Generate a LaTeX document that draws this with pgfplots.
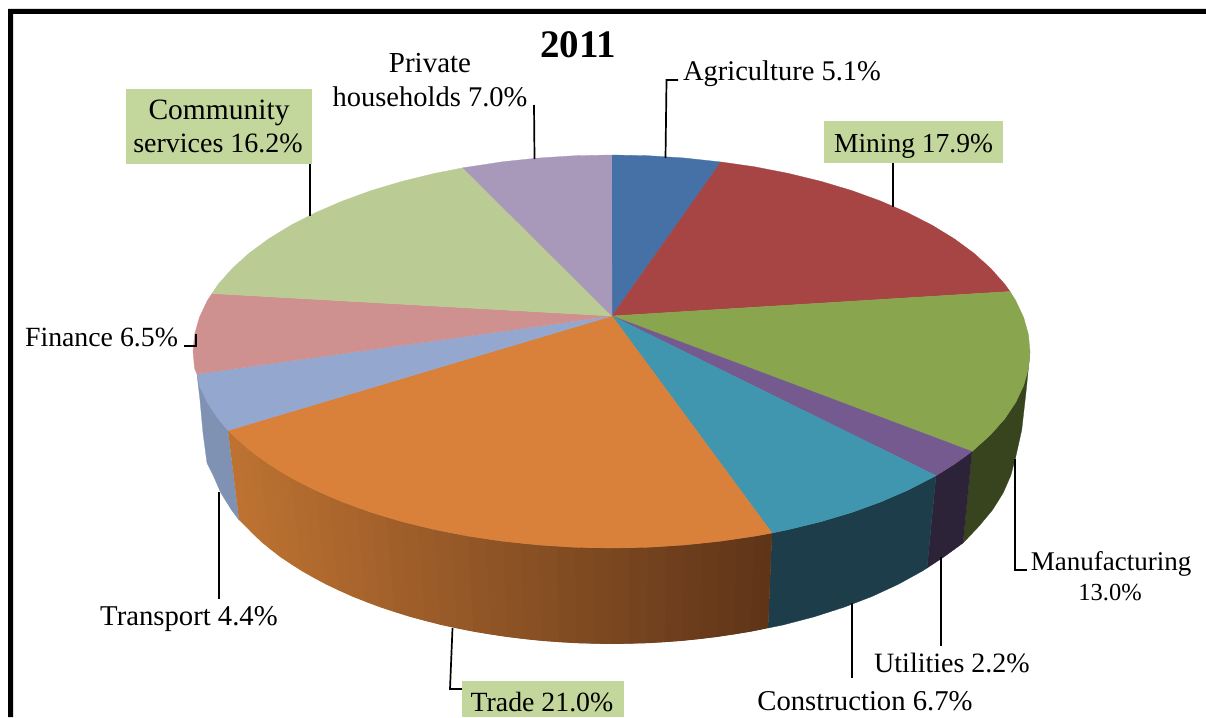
\documentclass[border=0pt]{standalone}
\usepackage{fontspec}
\setmainfont{Liberation Serif}
\usepackage{pgfplots}
\pgfplotsset{compat=1.18}
% slice tops
\definecolor{agri}{RGB}{70,113,166}
\definecolor{mining}{RGB}{167,68,68}
\definecolor{manuf}{RGB}{137,165,78}
\definecolor{util}{RGB}{116,90,143}
\definecolor{constr}{RGB}{65,150,175}
\definecolor{trade}{RGB}{217,128,59}
\definecolor{transp}{RGB}{147,167,207}
\definecolor{fin}{RGB}{207,145,143}
\definecolor{comm}{RGB}{186,203,147}
\definecolor{priv}{RGB}{168,153,187}
% slice walls
\definecolor{manufw}{RGB}{55,68,29}
\definecolor{utilw}{RGB}{45,35,56}
\definecolor{constrw}{RGB}{28,61,73}
\definecolor{transpw}{RGB}{128,146,180}
\definecolor{tradeL}{RGB}{190,115,50}
\definecolor{tradeR}{RGB}{94,52,24}
\definecolor{hilite}{RGB}{195,214,155}
\pgfplotsset{
  slice/.style={fill=#1,draw=#1,line width=0.3pt},
  leader/.style={black,line width=1.7pt,line join=miter},
}
\newcommand{\lab}[4][28.5]{\node[anchor=base,inner sep=0pt,font=\fontsize{#1}{30}\selectfont] at (axis cs:#2,#3) {#4};}
% strips overlap the next one so that no seams show
\newcommand{\strip}[2]{\addplot[fill=tradeR!#1!tradeL,draw=none] coordinates {#2};}
\begin{document}
\begin{tikzpicture}
\begin{axis}[
    scale only axis,
    width=1206pt,
    height=717pt,
    xmin=0, xmax=1206,
    ymin=0, ymax=717,
    y dir=reverse,
    hide axis,
    clip=false,
]
% keeps the page at full size
\addplot[draw=none] coordinates {(0,0) (1206,717)};
% frame
\addplot[fill=black,draw=none] coordinates {(8,717) (8,9) (1206,9) (1206,14) (13,14) (13,717)};

% walls
\addplot[slice=manufw] coordinates {(1030,351.5) (1028.4,368.6) (1023.6,385.6) (1015.7,402.4) (1004.8,418.7) (990.8,434.5) (972,451.5) (963,543) (979,526.2) (992.6,509.8) (1003.2,492.8) (1010.8,475.4) (1015.5,457.8) (1021.7,430) (1026,392) (1030,351.5)};
\addplot[slice=utilw] coordinates {(972,451.5) (954.3,464.2) (936,475.7) (927,568) (943.8,557) (963,543) (972,451.5)};
\addplot[slice=constrw] coordinates {(936,475.7) (907.4,490.4) (880.5,502) (851.6,512.5) (820.8,521.7) (788.4,529.6) (772,533) (768,628) (783.2,624.9) (814.5,616.7) (844.3,607.1) (872.3,596.3) (898.4,584.2) (922.2,571.1) (927,568) (936,475.7)};
\addplot[slice=transpw] coordinates {(197,374) (199.4,385.6) (207.3,402.4) (218.2,418.7) (228,430.5) (239,520) (231.4,509.8) (220.8,492.8) (213.2,475.4) (207,463) (203,433) (200,400) (197,374)};
% trade wall, shaded left to right
\strip{1}{(228,430.5) (249.1,449.8) (261.3,542) (239,520)}
\strip{3}{(238.5,440.2) (258.9,457) (270.8,549.5) (250.2,531)}
\strip{5}{(249.1,449.8) (268.7,464.2) (280.2,557) (261.3,542)}
\strip{7}{(258.9,457) (279.8,471) (291,564) (270.8,549.5)}
\strip{8}{(268.7,464.2) (290.9,477.8) (301.8,571.1) (280.2,557)}
\strip{10}{(279.8,471) (303.3,484.1) (313.7,577.7) (291,564)}
\strip{13}{(290.9,477.8) (315.6,490.4) (325.6,584.2) (301.8,571.1)}
\strip{15}{(303.3,484.1) (329,496.2) (338.7,590.3) (313.7,577.7)}
\strip{17}{(315.6,490.4) (342.5,502) (351.7,596.3) (325.6,584.2)}
\strip{20}{(329,496.2) (357,507.3) (365.7,601.7) (338.7,590.3)}
\strip{22}{(342.5,502) (371.4,512.5) (379.7,607.1) (351.7,596.3)}
\strip{25}{(357,507.3) (386.8,517.1) (394.6,611.9) (365.7,601.7)}
\strip{28}{(371.4,512.5) (402.2,521.7) (409.5,616.7) (379.7,607.1)}
\strip{31}{(386.8,517.1) (418.4,525.7) (425.2,620.8) (394.6,611.9)}
\strip{33}{(402.2,521.7) (434.6,529.6) (440.8,624.9) (409.5,616.7)}
\strip{36}{(418.4,525.7) (451.5,532.9) (457.2,628.3) (425.2,620.8)}
\strip{40}{(434.6,529.6) (468.4,536.2) (473.5,631.7) (440.8,624.9)}
\strip{43}{(451.5,532.9) (485.8,538.8) (490.4,634.4) (457.2,628.3)}
\strip{46}{(468.4,536.2) (503.2,541.3) (507.2,637) (473.5,631.7)}
\strip{49}{(485.8,538.8) (521,543.2) (524.5,639) (490.4,634.4)}
\strip{52}{(503.2,541.3) (538.8,545) (541.7,640.9) (507.2,637)}
\strip{56}{(521,543.2) (556.9,546.2) (559.2,642.1) (524.5,639)}
\strip{59}{(538.8,545) (575,547.3) (576.7,643.2) (541.7,640.9)}
\strip{62}{(556.9,546.2) (593.3,547.7) (594.4,643.6) (559.2,642.1)}
\strip{65}{(575,547.3) (611.5,548) (612,644) (576.7,643.2)}
\strip{69}{(593.3,547.7) (629.8,547.7) (629.7,643.6) (594.4,643.6)}
\strip{72}{(611.5,548) (648,547.3) (647.3,643.2) (612,644)}
\strip{76}{(629.8,547.7) (666.1,546.2) (664.8,642.1) (629.7,643.6)}
\strip{79}{(648,547.3) (684.2,545) (682.3,640.9) (647.3,643.2)}
\strip{82}{(666.1,546.2) (702,543.2) (699.6,639) (664.8,642.1)}
\strip{85}{(684.2,545) (719.8,541.3) (716.8,637) (682.3,640.9)}
\strip{89}{(702,543.2) (737.2,538.8) (733.7,634.4) (699.6,639)}
\strip{92}{(719.8,541.3) (754.6,536.2) (750.5,631.7) (716.8,637)}
\strip{95}{(737.2,538.8) (763.3,534.6) (759.3,629.9) (733.7,634.4)}
\strip{98}{(754.6,536.2) (772,533) (768,628) (750.5,631.7)}
\strip{99}{(763.3,534.6) (772,533) (768,628) (759.3,629.9)}

% top face
\addplot[slice=agri] coordinates {(612,316) (611.5,155) (648,155.7) (684.2,158) (721,162) (612,316)};
\addplot[slice=mining] coordinates {(612,316) (721,162) (754.6,166.8) (788.4,173.4) (820.8,181.3) (851.6,190.5) (880.5,201) (907.4,212.6) (932.1,225.2) (954.3,238.8) (973.9,253.2) (990.8,268.5) (1004.8,284.3) (1010,291.5) (612,316)};
\addplot[slice=manuf] coordinates {(612,316) (1010,291.5) (1015.7,300.6) (1023.6,317.4) (1028.4,334.4) (1030,351.5) (1028.4,368.6) (1023.6,385.6) (1015.7,402.4) (1004.8,418.7) (990.8,434.5) (972,451.5) (612,316)};
\addplot[slice=util] coordinates {(612,316) (972,451.5) (954.3,464.2) (936,475.7) (612,316)};
\addplot[slice=constr] coordinates {(612,316) (936,475.7) (907.4,490.4) (880.5,502) (851.6,512.5) (820.8,521.7) (788.4,529.6) (772,533) (612,316)};
\addplot[slice=trade] coordinates {(612,316) (772,533) (754.6,536.2) (719.8,541.3) (684.2,545) (648,547.3) (611.5,548) (575,547.3) (538.8,545) (503.2,541.3) (468.4,536.2) (434.6,529.6) (402.2,521.7) (371.4,512.5) (342.5,502) (315.6,490.4) (290.9,477.8) (268.7,464.2) (249.1,449.8) (228,430.5) (612,316)};
\addplot[slice=transp] coordinates {(612,316) (228,430.5) (218.2,418.7) (207.3,402.4) (199.4,385.6) (197,374) (612,316)};
\addplot[slice=fin] coordinates {(612,316) (197,374) (194.6,368.6) (193,351.5) (194.6,334.4) (199.4,317.4) (207.3,300.6) (212,293.5) (612,316)};
\addplot[slice=comm] coordinates {(612,316) (212,293.5) (218.2,284.3) (232.2,268.5) (249.1,253.2) (268.7,238.8) (290.9,225.2) (315.6,212.6) (342.5,201) (371.4,190.5) (402.2,181.3) (434.6,173.4) (463,167.8) (612,316)};
\addplot[slice=priv] coordinates {(612,316) (463,167.8) (503.2,161.7) (538.8,158) (575,155.7) (611.5,155) (612,316)};

% leader lines
\addplot[leader] coordinates {(534,105) (534.5,159)};
\addplot[leader] coordinates {(665.5,158) (666.5,80) (678,80)};
\addplot[leader] coordinates {(893,163) (893,207)};
\addplot[leader] coordinates {(310,164) (310,216)};
\addplot[leader] coordinates {(184,346) (196,346) (196,334)};
\addplot[leader] coordinates {(219,492) (219,599)};
\addplot[leader] coordinates {(1015,459) (1015,570) (1027,570)};
\addplot[leader] coordinates {(941,557) (941,646)};
\addplot[leader] coordinates {(851.7,603) (851.7,678)};
\addplot[leader] coordinates {(452.5,628) (450,689) (462,689)};

% highlighted label boxes
\fill[hilite] (axis cs:126,89) rectangle (axis cs:312,164);
\fill[hilite] (axis cs:824,121) rectangle (axis cs:1003,163);
\fill[hilite] (axis cs:462,681) rectangle (axis cs:624,717);

% labels
\node[anchor=base,inner sep=0pt,font=\fontsize{39}{40}\selectfont\bfseries] at (axis cs:578,58) {2011};
\lab[29]{430}{72}{Private}
\lab{430}{106}{households 7.0\%}
\lab{782}{80}{Agriculture 5.1\%}
\lab[27.5]{913.5}{152}{Mining 17.9\%}
\lab[29.5]{219}{119}{Community}
\lab[28]{218}{152}{services 16.2\%}
\lab[27.8]{101.5}{346}{Finance 6.5\%}
\lab[28.7]{189}{625}{Transport 4.4\%}
\lab[27]{1111}{570}{Manufacturing}
\lab[24.5]{1110}{600}{13.0\%}
\lab[28]{952}{672}{Utilities 2.2\%}
\lab[28.7]{865}{710}{Construction 6.7\%}
\lab[27.8]{542}{711}{Trade 21.0\%}
\end{axis}
\end{tikzpicture}
\end{document}
